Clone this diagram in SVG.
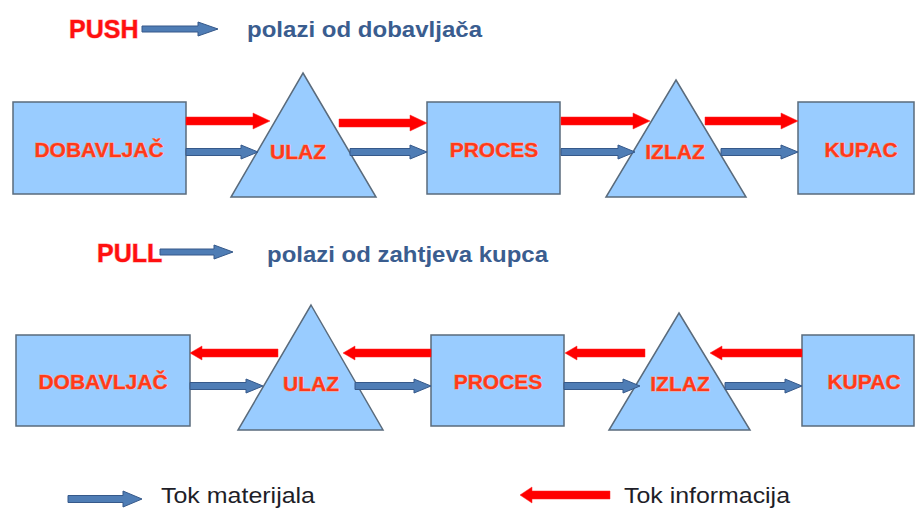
<svg xmlns="http://www.w3.org/2000/svg" width="917" height="509" viewBox="0 0 917 509">
<style>
.box{fill:#99CCFF;stroke:#5A6B7C;stroke-width:1.5}
.lbl{font-family:"Liberation Sans",Arial,sans-serif;font-weight:bold;font-size:21px;fill:#FF3A1A;stroke:#FF9A85;stroke-width:0.8;paint-order:stroke;text-anchor:middle}
.hdr{font-family:"Liberation Sans",Arial,sans-serif;font-weight:bold;font-size:25px;fill:#FF1010;stroke:#FF9A9A;stroke-width:1;paint-order:stroke}
.sub{font-family:"Liberation Sans",Arial,sans-serif;font-weight:bold;font-size:22px;fill:#3A5D8F}
.leg{font-family:"Liberation Sans",Arial,sans-serif;font-size:22px;fill:#1E1E28}
.red{fill:#FF0000;stroke:#F22;stroke-width:0.5}
.blue{fill:#4F7DB5;stroke:#36598A;stroke-width:1}
</style>

<g id="header-push">
<text class="hdr" x="69" y="38">PUSH</text>
<polygon class="blue" points="142,26 198,26 198,22 218,29 198,36 198,32 142,32"/>
<text class="sub" x="247" y="37" textLength="235" lengthAdjust="spacingAndGlyphs">polazi od dobavljača</text>
</g>

<g id="header-pull">
<text class="hdr" x="97" y="262">PULL</text>
<polygon class="blue" points="160,249 214,249 214,245 233,252 214,259 214,255 160,255"/>
<text class="sub" x="267" y="262" textLength="281" lengthAdjust="spacingAndGlyphs">polazi od zahtjeva kupca</text>
</g>

<g id="push-dobavljac"><rect class="box" x="13" y="102" width="173" height="92"/><text class="lbl" x="99" y="157">DOBAVLJAČ</text></g>
<g id="push-ulaz"><polygon class="box" points="303,73 376,197 231,197"/><text class="lbl" x="298" y="159">ULAZ</text></g>
<g id="push-proces"><rect class="box" x="427" y="102" width="133" height="92"/><text class="lbl" x="494" y="157">PROCES</text></g>
<g id="push-izlaz"><polygon class="box" points="676,80 746,197 606,197"/><text class="lbl" x="675" y="159">IZLAZ</text></g>
<g id="push-kupac"><rect class="box" x="798" y="102" width="116" height="92"/><text class="lbl" x="861" y="157">KUPAC</text></g>

<g id="pull-dobavljac"><rect class="box" x="16" y="335" width="174" height="91"/><text class="lbl" x="103" y="389">DOBAVLJAČ</text></g>
<g id="pull-ulaz"><polygon class="box" points="311,305 383,430 238,430"/><text class="lbl" x="311" y="391">ULAZ</text></g>
<g id="pull-proces"><rect class="box" x="431" y="335" width="133" height="91"/><text class="lbl" x="498" y="389">PROCES</text></g>
<g id="pull-izlaz"><polygon class="box" points="679,313 750,430 609,430"/><text class="lbl" x="680" y="391">IZLAZ</text></g>
<g id="pull-kupac"><rect class="box" x="802" y="335" width="112" height="91"/><text class="lbl" x="864" y="389">KUPAC</text></g>

<g id="connectors">
<polygon class="red" points="186,117 253,117 253,113 270,121 253,129 253,125 186,125"/>
<polygon class="red" points="339,119 410,119 410,115 427,123 410,131 410,127 339,127"/>
<polygon class="red" points="561,117 633,117 633,113 650,121 633,129 633,125 561,125"/>
<polygon class="red" points="705,117 781,117 781,113 798,121 781,129 781,125 705,125"/>
<polygon class="blue" points="186,148.5 241,148.5 241,145 258,152 241,159 241,155.5 186,155.5"/>
<polygon class="blue" points="350,148.5 410,148.5 410,145 427,152 410,159 410,155.5 350,155.5"/>
<polygon class="blue" points="561,148.5 618,148.5 618,145 635,152 618,159 618,155.5 561,155.5"/>
<polygon class="blue" points="721,148.5 781,148.5 781,145 798,152 781,159 781,155.5 721,155.5"/>
<polygon class="red" points="278,349 202,349 202,346 190,353 202,360 202,357 278,357"/>
<polygon class="red" points="431,349 355,349 355,346 343,353 355,360 355,357 431,357"/>
<polygon class="red" points="645,349 577,349 577,346 565,353 577,360 577,357 645,357"/>
<polygon class="red" points="802,349 722,349 722,346 710,353 722,360 722,357 802,357"/>
<polygon class="blue" points="190,382.5 246,382.5 246,379 263,386 246,393 246,389.5 190,389.5"/>
<polygon class="blue" points="355,382.5 414,382.5 414,379 431,386 414,393 414,389.5 355,389.5"/>
<polygon class="blue" points="564,382.5 623,382.5 623,379 640,386 623,393 623,389.5 564,389.5"/>
<polygon class="blue" points="725,382.5 785,382.5 785,379 802,386 785,393 785,389.5 725,389.5"/>
</g>

<g id="legend">
<polygon class="blue" points="68,495.5 123,495.5 123,491 142,499 123,507 123,502.5 68,502.5"/>
<text class="leg" x="161" y="503" textLength="154" lengthAdjust="spacingAndGlyphs">Tok materijala</text>
<polygon class="red" points="610,491 532,491 532,487 520,495 532,503 532,499 610,499"/>
<text class="leg" x="624" y="503" textLength="166" lengthAdjust="spacingAndGlyphs">Tok informacija</text>
</g>
</svg>
